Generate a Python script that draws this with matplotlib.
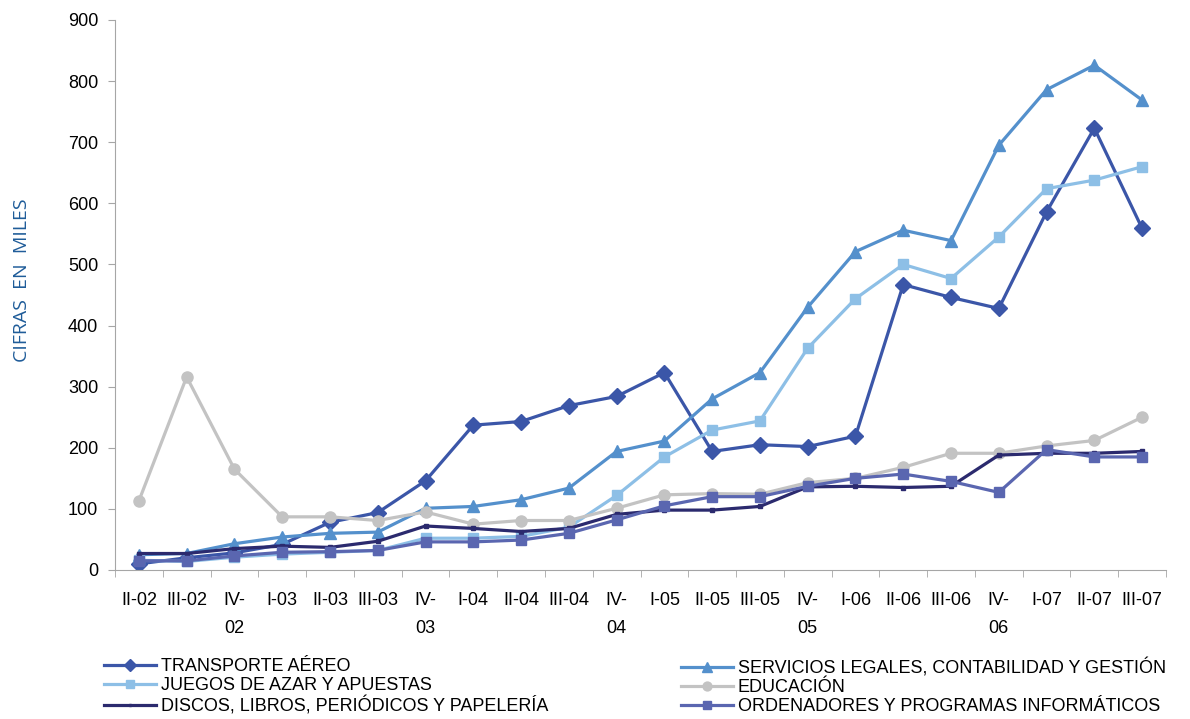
import matplotlib.pyplot as plt

plt.rcParams['font.family'] = ['Liberation Sans', 'DejaVu Sans']

quarters = ['II-02', 'III-02', 'IV-\n02', 'I-03', 'II-03', 'III-03', 'IV-\n03', 'I-04',
            'II-04', 'III-04', 'IV-\n04', 'I-05', 'II-05', 'III-05', 'IV-\n05', 'I-06',
            'II-06', 'III-06', 'IV-\n06', 'I-07', 'II-07', 'III-07']

transporte = [10, 20, 28, 42, 78, 94, 146, 237, 243, 269, 284, 323, 194, 205, 202, 219,
              467, 446, 428, 586, 723, 559]
servicios = [25, 27, 43, 54, 60, 62, 101, 104, 115, 134, 194, 211, 280, 323, 430, 521,
             556, 539, 695, 786, 826, 769]
juegos = [16, 14, 21, 26, 29, 32, 52, 52, 55, 70, 122, 185, 229, 244, 363, 444,
          500, 477, 545, 624, 638, 660]
educacion = [113, 316, 165, 87, 87, 81, 95, 75, 81, 81, 101, 123, 125, 124, 143, 150,
             168, 191, 191, 203, 212, 250]
discos = [27, 27, 35, 39, 37, 47, 72, 68, 63, 68, 91, 98, 98, 104, 136, 137,
          135, 137, 188, 191, 191, 194]
ordenadores = [15, 15, 23, 29, 30, 32, 46, 46, 49, 60, 82, 105, 120, 120, 137, 150,
               157, 145, 127, 197, 185, 185]

series = [
    ('TRANSPORTE AÉREO', transporte, '#3B56A8', 'D', 8),
    ('SERVICIOS LEGALES, CONTABILIDAD Y GESTIÓN', servicios, '#5490CC', '^', 9),
    ('JUEGOS DE AZAR Y APUESTAS', juegos, '#8DBFE6', 's', 7.5),
    ('EDUCACIÓN', educacion, '#C3C3C3', 'o', 8),
    ('DISCOS, LIBROS, PERIÓDICOS Y PAPELERÍA', discos, '#2B2A6E', 's', 2.5),
    ('ORDENADORES Y PROGRAMAS INFORMÁTICOS', ordenadores, '#5A66B0', 's', 7.5),
]

fig = plt.figure(figsize=(11.9, 7.19), dpi=100)
ax = fig.add_axes([115 / 1190, 1 - 570 / 719, 1051 / 1190, 550 / 719])

x = list(range(len(quarters)))
handles = []
for name, vals, col, mk, ms in series:
    line, = ax.plot(x, vals, color=col, lw=2.3, marker=mk, markersize=ms,
                    markeredgecolor=col, markerfacecolor=col, label=name)
    handles.append(line)

ax.set_xlim(-0.5, len(quarters) - 0.5)
ax.set_ylim(0, 900)
ax.set_yticks(range(0, 901, 100))
ax.set_xticks(x)
ax.set_xticklabels(quarters, fontsize=13, linespacing=1.8, va='top')
ax.set_xticks([i + 0.5 for i in range(-1, len(quarters))], minor=True)
ax.tick_params(axis='x', which='major', length=0, pad=16)
ax.tick_params(axis='x', which='minor', length=5, color='#A6A6A6', direction='out')
ax.tick_params(axis='y', labelsize=13, length=5, pad=7, color='#A6A6A6', direction='out')

for s in ['top', 'right']:
    ax.spines[s].set_visible(False)
for s in ['left', 'bottom']:
    ax.spines[s].set_color('#A6A6A6')

ax.set_ylabel('CIFRAS  EN  MILES', color='#1F5C99', fontsize=14,
              family=['Open Sans', 'DejaVu Sans'])
ax.yaxis.set_label_coords(-0.080, 0.527)

leg_kw = dict(frameon=False, fontsize=13, handlelength=2.9, handletextpad=0.25,
              labelspacing=0.12, borderpad=0, borderaxespad=0)
leg1 = fig.legend(handles=[handles[0], handles[2], handles[4]],
                  loc='upper left', bbox_to_anchor=(104 / 1190, 1 - 658 / 719), **leg_kw)
leg2 = fig.legend(handles=[handles[1], handles[3], handles[5]],
                  loc='upper left', bbox_to_anchor=(681 / 1190, 1 - 658 / 719), **leg_kw)
for leg in (leg1, leg2):
    for h in leg.legend_handles:
        h.set_markersize(h.get_markersize() * 0.8)

fig.savefig('out.png', dpi=100)
